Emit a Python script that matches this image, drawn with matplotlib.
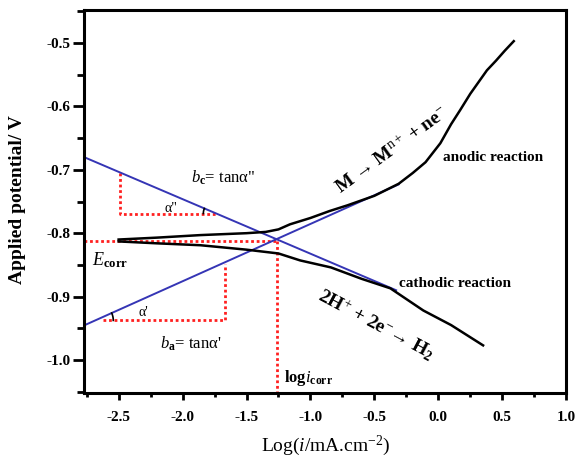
import numpy as np
import matplotlib
matplotlib.use("Agg")
import matplotlib.pyplot as plt

plt.rcParams['font.family'] = ['Liberation Serif', 'DejaVu Serif']
plt.rcParams['mathtext.fontset'] = 'custom'
plt.rcParams['mathtext.rm'] = 'Liberation Serif'
plt.rcParams['mathtext.it'] = 'Liberation Serif:italic'
plt.rcParams['mathtext.bf'] = 'Liberation Serif:bold'
plt.rcParams['axes.unicode_minus'] = False

# anodic branch of the polarization curve
anodic_x = [-2.5, -2.2, -1.86, -1.5, -1.35, -1.25, -1.16, -1.0, -0.85, -0.71, -0.5, -0.31,
            -0.2, -0.1, 0.016, 0.1, 0.17, 0.25, 0.38, 0.45, 0.52, 0.59]
anodic_y = [-0.810, -0.807, -0.803, -0.800, -0.798, -0.794, -0.786, -0.776, -0.765, -0.756, -0.741, -0.722,
            -0.705, -0.688, -0.658, -0.628, -0.606, -0.580, -0.543, -0.528, -0.512, -0.497]

# cathodic branch
cathodic_x = [-2.5, -2.2, -1.86, -1.5, -1.25, -1.08, -0.84, -0.6, -0.375, -0.117, 0.1, 0.35]
cathodic_y = [-0.813, -0.816, -0.819, -0.826, -0.832, -0.843, -0.854, -0.872, -0.887, -0.922, -0.945, -0.977]

# Tafel lines (end points)
tafel_c_x = [-2.77, -0.33]
tafel_c_y = [-0.680, -0.890]
tafel_a_x = [-2.77, -0.31]
tafel_a_y = [-0.9455, -0.723]

# corrosion point
logi_corr = -1.26
e_corr = -0.813

# construction triangles
tri_a_x = [-2.62, -1.67, -1.67]
tri_a_y = [-0.9376, -0.9376, -0.848]
tri_c_x = [-2.49, -2.49, -1.74]
tri_c_y = [-0.705, -0.769, -0.769]

xlim = (-2.77, 1.0)
ylim = (-1.052, -0.448)

fig = plt.figure(figsize=(5.76, 4.59), dpi=100)
ax = fig.add_axes([0.146, 0.144, 0.837, 0.834])

red_style = dict(color='#ff2020', lw=2, linestyle=(0, (1, 1)))
ax.plot([xlim[0], logi_corr], [e_corr, e_corr], **red_style)
ax.plot([logi_corr, logi_corr], [e_corr, ylim[0]], **red_style)
ax.plot(tri_a_x, tri_a_y, **red_style)
ax.plot(tri_c_x, tri_c_y, **red_style)

ax.plot(tafel_c_x, tafel_c_y, color='#3535b5', lw=1.4)
ax.plot(tafel_a_x, tafel_a_y, color='#3535b5', lw=1.4)

ax.plot(anodic_x, anodic_y, color='black', lw=1.8)
ax.plot(cathodic_x, cathodic_y, color='black', lw=1.8)

ax.set_xlim(xlim)
ax.set_ylim(ylim)

# small angle arcs, drawn in pixel radius
pxx = 0.837 * 576 / (xlim[1] - xlim[0])
pxy = 0.834 * 459 / (ylim[1] - ylim[0])

def arc(vx, vy, r, t1, t2):
    t = np.radians(np.linspace(t1, t2, 20))
    ax.plot(vx + r * np.cos(t) / pxx, vy + r * np.sin(t) / pxy, color='black', lw=1.2)

slope_a = (tafel_a_y[1] - tafel_a_y[0]) / (tafel_a_x[1] - tafel_a_x[0])
slope_c = (tafel_c_y[1] - tafel_c_y[0]) / (tafel_c_x[1] - tafel_c_x[0])
ang_a = np.degrees(np.arctan(slope_a * pxy / pxx))
ang_c = np.degrees(np.arctan(-slope_c * pxy / pxx))
va_x = tafel_a_x[0] + (tri_a_y[0] - tafel_a_y[0]) / slope_a
vc_x = tafel_c_x[0] + (tri_c_y[1] - tafel_c_y[0]) / slope_c
arc(va_x, tri_a_y[0], 18, 0, ang_a)
arc(vc_x, tri_c_y[1], 13, 180 - ang_c, 180)

for s in ax.spines.values():
    s.set_linewidth(2.2)

ax.set_xticks(np.arange(-2.5, 1.01, 0.5))
ax.set_xticks(np.arange(-2.75, 1.01, 0.25), minor=True)
ax.set_yticks(np.arange(-1.0, -0.45, 0.1))
ax.set_yticks(np.arange(-1.05, -0.449, 0.05), minor=True)
ax.xaxis.set_major_formatter(matplotlib.ticker.FormatStrFormatter('%.1f'))
ax.yaxis.set_major_formatter(matplotlib.ticker.FormatStrFormatter('%.1f'))
ax.tick_params(axis='both', which='major', direction='out', width=2, labelsize=11)
ax.tick_params(axis='both', which='minor', direction='out', width=2)
ax.tick_params(axis='x', which='major', length=5, pad=8)
ax.tick_params(axis='x', which='minor', length=3)
ax.tick_params(axis='y', which='major', length=8, pad=2)
ax.tick_params(axis='y', which='minor', length=5)
for lab in ax.get_xticklabels() + ax.get_yticklabels():
    lab.set_fontweight('bold')

fig.text(0.565, 1 - 446 / 459, r'Log($\mathit{i}$/mA.cm$^{\mathrm{-2}}$)', ha='center', va='center', fontsize=14)
fig.text(18 / 576, 1 - 200 / 459, 'Applied potential/ V', ha='center', va='center',
         rotation=90, fontsize=14, fontweight='bold')

ax.text(-1.68, -0.712, r'$\mathit{b}_{\mathbf{c}}$= tanα"', ha='center', va='center', fontsize=12)
ax.text(-1.94, -0.974, r"$\mathit{b}_{\mathbf{a}}$= tanα'", ha='center', va='center', fontsize=12)
ax.text(-2.09, -0.761, 'α"', ha='center', va='center', fontsize=10)
ax.text(-2.31, -0.925, "α'", ha='center', va='center', fontsize=10)
ax.text(-2.71, -0.843, r'$\mathit{E}_{\mathbf{corr}}$', ha='left', va='center', fontsize=13)
ax.text(-1.21, -1.028, r'log$\mathit{i}_{\mathbf{corr}}$', ha='left', va='center', fontsize=12, fontweight='bold')
ax.text(0.43, -0.68, 'anodic reaction', ha='center', va='center', fontsize=11, fontweight='bold')
ax.text(0.13, -0.879, 'cathodic reaction', ha='center', va='center', fontsize=11, fontweight='bold')
ax.text(-0.36, -0.670, r'M → M$^{\mathrm{n+}}$ + ne$^{\mathrm{-}}$', ha='center', va='center',
        fontsize=14, fontweight='bold', rotation=36)
ax.text(-0.49, -0.945, r'2H$^{\mathrm{+}}$ + 2e$^{\mathrm{-}}$→ H$_{\mathbf{2}}$', ha='center', va='center',
        fontsize=14, fontweight='bold', rotation=-28)

fig.savefig('out.png', dpi=100)
